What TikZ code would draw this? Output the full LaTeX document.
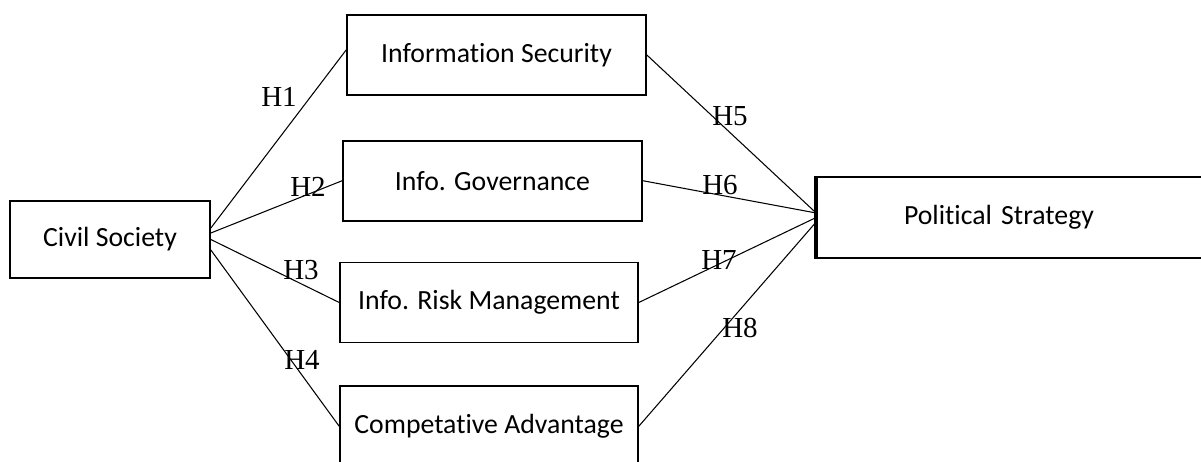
\documentclass[tikz,border=0pt]{standalone}
\usepackage{fontspec}
\setmainfont[Ligatures=NoCommon]{Carlito}
\newfontfamily\hypfont{Liberation Serif}
\usetikzlibrary{positioning}

\begin{document}
\begin{tikzpicture}[x=0.02cm,y=-0.02cm]
\tikzset{construct/.style={rectangle,draw,line width=1pt,minimum width=5.98cm,minimum height=1.6cm,font=\fontsize{15.8}{18}\selectfont},
hyp/.style={font=\hypfont\fontsize{16.5}{18}\selectfont,inner sep=0pt},
path/.style={line width=0.6pt}}
\useasboundingbox (0,0) rectangle (1201,462);
\node[construct,minimum width=4cm,minimum height=1.54cm](civ) at (110,239.5){Civil Society};
\node[construct](sec) at (496.5,55){Information Security};
\node[construct](gov)[below=0.88cm of sec,xshift=-0.08cm]{Info. Governance};
\node[construct,minimum width=5.96cm](risk)[below=0.8cm of gov,xshift=-0.07cm]{Info. Risk Management};
\node[construct,minimum width=5.96cm](comp)[below=0.84cm of risk]{Competative Advantage};
\node[construct,minimum width=8cm,minimum height=1.62cm,text width=4.52cm,inner xsep=1.74cm,align=left](pol) at (1017,217.5){Political Strategy};
\draw[line width=2pt](pol.north west) -- (pol.south west);
% hypotheses, left side
\draw[path]([yshift=0.23cm]civ.east) -- ([yshift=0.1cm]sec.west);
\draw[path]([yshift=0.13cm]civ.east) -- (gov.west);
\draw[path](civ.east) -- (risk.west);
\draw[path]([yshift=-0.21cm]civ.east) -- (comp.west);
% hypotheses, right side
\draw[path](sec.east) -- ([yshift=0.09cm]pol.west);
\draw[path](gov.east) -- ([yshift=0.09cm]pol.west);
\draw[path](risk.east) -- (pol.west);
\draw[path](comp.east) -- ([yshift=-0.09cm]pol.west);
\node[hyp](h1) at (279,97){H1};
\node[hyp](h2) at (308,187){H2};
\node[hyp](h3) at (301,270){H3};
\node[hyp](h4) at (302,360){H4};
\node[hyp](h5) at (730,116){H5};
\node[hyp](h6) at (720,185){H6};
\node[hyp](h7) at (719,260){H7};
\node[hyp](h8) at (740,328){H8};
\end{tikzpicture}
\end{document}
